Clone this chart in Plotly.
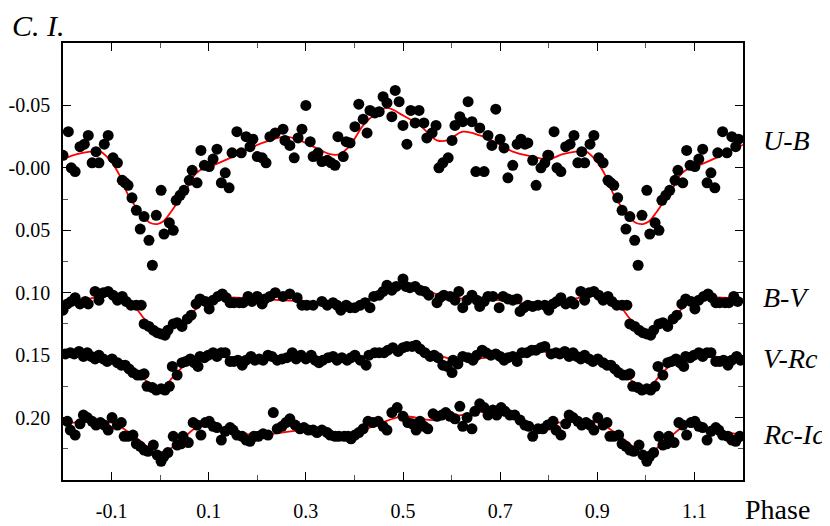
import plotly.graph_objects as go

# ---- colour indices vs phase ----
ub_phase = [-0.200, -0.189, -0.183, -0.175, -0.165, -0.156, -0.148, -0.140, -0.132, -0.126,
            -0.115, -0.107, -0.097, -0.088, -0.078, -0.072, -0.066, -0.058, -0.049, -0.041,
            -0.033, -0.023, -0.016, -0.008, 0.002, 0.008, 0.019, 0.027, 0.033, 0.041,
            0.049, 0.060, 0.066, 0.076, 0.084, 0.091, 0.101, 0.109, 0.117, 0.126,
            0.134, 0.142, 0.148, 0.158, 0.167, 0.177, 0.185, 0.191, 0.200, 0.210,
            0.218, 0.226, 0.237, 0.253, 0.257, 0.267, 0.276, 0.284, 0.292, 0.300,
            0.309, 0.315, 0.325, 0.333, 0.344, 0.352, 0.360, 0.366, 0.377, 0.383,
            0.391, 0.401, 0.409, 0.418, 0.426, 0.432, 0.442, 0.451, 0.459, 0.467,
            0.477, 0.484, 0.492, 0.500, 0.508, 0.516, 0.525, 0.533, 0.543, 0.549,
            0.560, 0.568, 0.574, 0.582, 0.593, 0.601, 0.607, 0.617, 0.623, 0.634,
            0.642, 0.650, 0.658, 0.667, 0.675, 0.683, 0.691, 0.700, 0.708, 0.716,
            0.726, 0.735, 0.743, 0.751, 0.757, 0.767, 0.774, 0.784, 0.792, 0.798]
ub_mag = [-0.010, -0.029, 0.000, 0.003, -0.017, -0.019, -0.026, -0.004, -0.013, -0.004,
          -0.019, -0.026, -0.008, -0.004, 0.010, 0.012, 0.014, 0.024, 0.034, 0.049,
          0.039, 0.058, 0.078, 0.038, 0.018, 0.053, 0.044, 0.050, 0.026, 0.022,
          0.018, 0.010, 0.002, 0.012, -0.014, -0.002, -0.001, -0.007, -0.015, 0.012,
          0.004, 0.016, -0.012, -0.029, -0.012, -0.025, -0.017, -0.023, -0.009, -0.008,
          -0.004, -0.025, -0.028, -0.031, -0.022, -0.018, -0.008, -0.024, -0.031, -0.050,
          -0.021, -0.009, -0.012, -0.005, -0.006, -0.004, -0.002, -0.025, -0.009, -0.021,
          -0.020, -0.033, -0.051, -0.039, -0.028, -0.046, -0.044, -0.045, -0.057, -0.052,
          -0.041, -0.062, -0.053, -0.034, -0.019, -0.046, -0.036, -0.046, -0.036, -0.024,
          -0.028, -0.034, 0.000, -0.004, -0.008, -0.022, -0.034, -0.041, -0.037, -0.053,
          -0.037, 0.003, -0.032, 0.003, -0.026, -0.018, -0.047, -0.023, -0.016, 0.008,
          -0.002, -0.019, -0.023, -0.019, -0.020, -0.006, 0.014, 0.000, -0.004, -0.010]

bv_phase = [-0.200, -0.191, -0.183, -0.175, -0.165, -0.154, -0.148, -0.134, -0.126, -0.117,
            -0.107, -0.097, -0.088, -0.078, -0.070, -0.060, -0.049, -0.039, -0.033, -0.023,
            -0.014, -0.006, 0.002, 0.010, 0.016, 0.027, 0.035, 0.045, 0.056, 0.064,
            0.074, 0.082, 0.093, 0.101, 0.109, 0.119, 0.128, 0.136, 0.144, 0.152,
            0.163, 0.171, 0.181, 0.189, 0.200, 0.210, 0.216, 0.226, 0.237, 0.253,
            0.267, 0.282, 0.292, 0.302, 0.315, 0.333, 0.344, 0.356, 0.364, 0.372,
            0.383, 0.391, 0.401, 0.412, 0.422, 0.432, 0.440, 0.451, 0.459, 0.467,
            0.477, 0.486, 0.500, 0.506, 0.514, 0.525, 0.535, 0.545, 0.553, 0.570,
            0.576, 0.584, 0.597, 0.607, 0.615, 0.623, 0.632, 0.642, 0.652, 0.658,
            0.667, 0.675, 0.685, 0.698, 0.706, 0.716, 0.726, 0.735, 0.741, 0.749,
            0.757, 0.767, 0.778, 0.792]
bv_mag = [0.114, 0.109, 0.107, 0.104, 0.109, 0.107, 0.109, 0.099, 0.106, 0.100,
          0.099, 0.102, 0.106, 0.103, 0.107, 0.110, 0.110, 0.110, 0.125, 0.127,
          0.130, 0.132, 0.133, 0.134, 0.130, 0.125, 0.124, 0.127, 0.121, 0.118,
          0.109, 0.105, 0.107, 0.113, 0.106, 0.103, 0.101, 0.104, 0.108, 0.108,
          0.108, 0.108, 0.103, 0.107, 0.103, 0.109, 0.105, 0.103, 0.100, 0.103,
          0.101, 0.104, 0.110, 0.110, 0.110, 0.107, 0.110, 0.108, 0.110, 0.114,
          0.110, 0.112, 0.112, 0.110, 0.108, 0.112, 0.103, 0.102, 0.099, 0.094,
          0.098, 0.095, 0.089, 0.095, 0.096, 0.095, 0.098, 0.099, 0.102, 0.108,
          0.104, 0.102, 0.103, 0.106, 0.099, 0.112, 0.106, 0.102, 0.106, 0.111,
          0.107, 0.103, 0.103, 0.112, 0.103, 0.105, 0.106, 0.105, 0.115, 0.112,
          0.110, 0.111, 0.110, 0.110]

vr_phase = [-0.195, -0.185, -0.177, -0.167, -0.158, -0.150, -0.142, -0.134, -0.126, -0.117,
            -0.109, -0.099, -0.088, -0.080, -0.072, -0.064, -0.056, -0.047, -0.039, -0.033,
            -0.027, -0.016, -0.008, 0.002, 0.010, 0.019, 0.025, 0.035, 0.045, 0.053,
            0.062, 0.070, 0.078, 0.082, 0.091, 0.099, 0.109, 0.117, 0.126, 0.134,
            0.144, 0.152, 0.160, 0.169, 0.177, 0.187, 0.195, 0.204, 0.212, 0.222,
            0.230, 0.241, 0.251, 0.261, 0.272, 0.280, 0.290, 0.300, 0.311, 0.319,
            0.327, 0.335, 0.346, 0.356, 0.364, 0.374, 0.385, 0.393, 0.401, 0.412,
            0.424, 0.430, 0.442, 0.451, 0.461, 0.469, 0.479, 0.490, 0.500, 0.508,
            0.519, 0.527, 0.535, 0.545, 0.556, 0.564, 0.572, 0.582, 0.591, 0.601,
            0.603, 0.613, 0.623, 0.634, 0.644, 0.652, 0.663, 0.671, 0.681, 0.691,
            0.700, 0.708, 0.716, 0.726, 0.735, 0.745, 0.755, 0.765, 0.774, 0.784, 0.792]
vr_mag = [0.149, 0.148, 0.149, 0.147, 0.151, 0.148, 0.151, 0.153, 0.150, 0.153,
          0.155, 0.153, 0.156, 0.158, 0.158, 0.161, 0.164, 0.166, 0.166, 0.165,
          0.175, 0.176, 0.178, 0.177, 0.178, 0.175, 0.159, 0.166, 0.156, 0.155,
          0.153, 0.156, 0.159, 0.151, 0.152, 0.150, 0.148, 0.151, 0.148, 0.148,
          0.155, 0.155, 0.154, 0.158, 0.154, 0.151, 0.154, 0.153, 0.154, 0.150,
          0.151, 0.154, 0.153, 0.152, 0.148, 0.153, 0.150, 0.153, 0.150, 0.154,
          0.156, 0.154, 0.152, 0.151, 0.154, 0.152, 0.154, 0.152, 0.150, 0.154,
          0.158, 0.150, 0.148, 0.148, 0.148, 0.146, 0.144, 0.147, 0.144, 0.143,
          0.143, 0.142, 0.145, 0.148, 0.151, 0.150, 0.152, 0.158, 0.159, 0.164,
          0.154, 0.157, 0.151, 0.152, 0.154, 0.150, 0.146, 0.148, 0.150, 0.149,
          0.151, 0.154, 0.152, 0.151, 0.155, 0.148, 0.148, 0.146, 0.146, 0.144, 0.143]

ri_phase = [-0.191, -0.185, -0.175, -0.165, -0.158, -0.150, -0.140, -0.132, -0.123, -0.115,
            -0.107, -0.099, -0.088, -0.080, -0.074, -0.066, -0.056, -0.049, -0.041, -0.033,
            -0.025, -0.014, -0.006, 0.002, 0.008, 0.016, 0.027, 0.035, 0.043, 0.047,
            0.058, 0.068, 0.076, 0.084, 0.093, 0.101, 0.109, 0.117, 0.126, 0.134,
            0.144, 0.150, 0.158, 0.169, 0.177, 0.185, 0.193, 0.202, 0.212, 0.222,
            0.233, 0.241, 0.251, 0.259, 0.267, 0.278, 0.288, 0.296, 0.305, 0.315,
            0.323, 0.333, 0.344, 0.350, 0.360, 0.368, 0.379, 0.387, 0.393, 0.401,
            0.409, 0.418, 0.428, 0.438, 0.449, 0.459, 0.467, 0.477, 0.488, 0.500,
            0.510, 0.519, 0.527, 0.535, 0.543, 0.551, 0.562, 0.570, 0.580, 0.588,
            0.597, 0.607, 0.617, 0.623, 0.632, 0.642, 0.648, 0.658, 0.667, 0.675,
            0.685, 0.693, 0.702, 0.710, 0.720, 0.730, 0.741, 0.751, 0.759, 0.767,
            0.778, 0.788, 0.798]
ri_mag = [0.203, 0.210, 0.214, 0.205, 0.198, 0.200, 0.203, 0.206, 0.204, 0.206,
          0.210, 0.200, 0.206, 0.204, 0.215, 0.215, 0.214, 0.221, 0.223, 0.226,
          0.227, 0.222, 0.230, 0.235, 0.231, 0.228, 0.215, 0.222, 0.221, 0.215,
          0.220, 0.204, 0.206, 0.214, 0.204, 0.203, 0.207, 0.208, 0.218, 0.211,
          0.208, 0.210, 0.214, 0.215, 0.218, 0.219, 0.215, 0.215, 0.213, 0.214,
          0.196, 0.209, 0.207, 0.204, 0.201, 0.206, 0.209, 0.208, 0.210, 0.210,
          0.212, 0.210, 0.212, 0.214, 0.215, 0.215, 0.215, 0.215, 0.217, 0.214,
          0.212, 0.209, 0.203, 0.204, 0.203, 0.207, 0.210, 0.196, 0.192, 0.199,
          0.204, 0.205, 0.210, 0.203, 0.207, 0.209, 0.197, 0.199, 0.198, 0.196,
          0.199, 0.201, 0.191, 0.207, 0.200, 0.209, 0.195, 0.189, 0.192, 0.198,
          0.194, 0.198, 0.192, 0.195, 0.198, 0.198, 0.202, 0.206, 0.207, 0.215,
          0.209, 0.209, 0.206]

# fitted curves (red)
ub_fit_phase = [-0.200, -0.171, -0.144, -0.123, -0.103, -0.082, -0.068, -0.056, -0.035, -0.021,
                -0.006, 0.006, 0.021, 0.035, 0.056, 0.066, 0.082, 0.109, 0.150, 0.191,
                0.226, 0.257, 0.282, 0.315, 0.350, 0.370, 0.391, 0.418, 0.442, 0.467,
                0.500, 0.535, 0.570, 0.591, 0.623, 0.658, 0.693, 0.726, 0.767]
ub_fit_mag = [-0.007, -0.011, -0.013, -0.013, -0.006, 0.007, 0.020, 0.028, 0.039, 0.044,
              0.045, 0.043, 0.036, 0.028, 0.016, 0.008, 0.002, -0.002, -0.009, -0.017,
              -0.022, -0.025, -0.023, -0.017, -0.011, -0.011, -0.018, -0.034, -0.043, -0.048,
              -0.042, -0.034, -0.022, -0.022, -0.029, -0.026, -0.020, -0.013, -0.009]
bv_fit_phase = [-0.2, -0.15, -0.1, -0.06, -0.03, 0.0, 0.03, 0.06, 0.09, 0.13,
                0.2, 0.3, 0.4, 0.45, 0.5, 0.55, 0.6, 0.7, 0.76]
bv_fit_mag = [0.108, 0.105, 0.102, 0.108, 0.122, 0.131, 0.127, 0.118, 0.108, 0.104,
              0.105, 0.107, 0.109, 0.101, 0.094, 0.099, 0.104, 0.106, 0.109]
vr_fit_phase = [-0.2, -0.1, -0.06, -0.03, 0.0, 0.03, 0.06, 0.1, 0.2, 0.3,
                0.4, 0.45, 0.5, 0.55, 0.6, 0.7, 0.77]
vr_fit_mag = [0.148, 0.153, 0.160, 0.170, 0.177, 0.166, 0.155, 0.151, 0.153, 0.152,
              0.152, 0.148, 0.144, 0.147, 0.153, 0.151, 0.146]
ri_fit_phase = [-0.2, -0.1, -0.05, 0.0, 0.04, 0.08, 0.12, 0.2, 0.3, 0.38,
                0.45, 0.5, 0.56, 0.62, 0.68, 0.74, 0.77]
ri_fit_mag = [0.205, 0.204, 0.216, 0.229, 0.219, 0.207, 0.209, 0.214, 0.210, 0.215,
              0.205, 0.199, 0.202, 0.198, 0.195, 0.202, 0.207]

x_tick_vals = [-0.1, 0.1, 0.3, 0.5, 0.7, 0.9, 1.1]
x_tick_text = ['-0.1', '0.1', '0.3', '0.5', '0.7', '0.9', '1.1']
x_minor_vals = [0.0, 0.2, 0.4, 0.6, 0.8, 1.0]
y_tick_vals = [-0.05, 0.0, 0.05, 0.10, 0.15, 0.20]
y_tick_text = ['-0.05', '-0.00', '0.05', '0.10', '0.15', '0.20']
y_minor_vals = [0.025, 0.075, 0.125, 0.175, 0.225]

series = [
    ('U-B', ub_phase, ub_mag, ub_fit_phase, ub_fit_mag),
    ('B-V', bv_phase, bv_mag, bv_fit_phase, bv_fit_mag),
    ('V-Rc', vr_phase, vr_mag, vr_fit_phase, vr_fit_mag),
    ('Rc-Ic', ri_phase, ri_mag, ri_fit_phase, ri_fit_mag),
]
label_y = {'U-B': 0.778, 'B-V': 0.4165, 'V-Rc': 0.279, 'Rc-Ic': 0.103}


# phase diagram: repeat the start of the cycle after phase 1
def fold(ph, mg, lim):
    assert len(ph) == len(mg)
    xs = list(ph) + [p + 1 for p in ph if p < lim]
    ys = list(mg) + [m for p, m in zip(ph, mg) if p < lim]
    return xs, ys


SERIF = 'Liberation Serif'
fig = go.Figure()

for name, ph, mg, fph, fmg in series:
    fx, fy = fold(fph, fmg, 0.25)
    fig.add_trace(go.Scatter(x=fx, y=fy, mode='lines', line=dict(color='red', width=1.8, shape='spline'),
                             hoverinfo='skip', showlegend=False))

for name, ph, mg, fph, fmg in series:
    px_, py_ = fold(ph, mg, 0.2)
    fig.add_trace(go.Scatter(x=px_, y=py_, mode='markers', name=name,
                             marker=dict(color='black', size=11, line=dict(width=0)),
                             showlegend=False))

# the page body has an 8px default margin, so the figure starts 8px in and is 8px smaller
fig.update_layout(
    width=822, height=518,
    margin=dict(l=55, r=87, t=35, b=46),
    paper_bgcolor='white', plot_bgcolor='white',
    font=dict(family=SERIF, color='black'),
    xaxis=dict(range=[-0.2, 1.2], showgrid=False, zeroline=False, automargin=False,
               showline=True, linecolor='black', linewidth=1.5, mirror='ticks',
               tickmode='array', tickvals=x_tick_vals, ticktext=x_tick_text,
               ticks='inside', ticklen=8, tickwidth=1, tickcolor='black',
               tickfont=dict(family=SERIF, size=20, color='black'),
               ticklabelstandoff=12,
               minor=dict(tickmode='array', tickvals=x_minor_vals, ticks='inside',
                          ticklen=5, tickwidth=1, tickcolor='#555', showgrid=False)),
    yaxis=dict(range=[0.25, -0.10], showgrid=False, zeroline=False, automargin=False,
               showline=True, linecolor='black', linewidth=1.5, mirror='ticks',
               tickmode='array', tickvals=y_tick_vals, ticktext=y_tick_text,
               ticks='inside', ticklen=8, tickwidth=1, tickcolor='black',
               tickfont=dict(family=SERIF, size=20, color='black'),
               ticklabelstandoff=7,
               minor=dict(tickmode='array', tickvals=y_minor_vals, ticks='inside',
                          ticklen=5, tickwidth=1, tickcolor='#555', showgrid=False)),
)

for name in label_y:
    fig.add_annotation(text=name, xref='paper', yref='paper', x=1.0, y=label_y[name],
                       xanchor='left', yanchor='middle', xshift=18, showarrow=False,
                       font=dict(family=SERIF, size=28, color='black', style='italic'))

fig.add_annotation(text='C. I.', xref='paper', yref='paper', x=-0.076, y=1.08,
                   xanchor='left', yanchor='top', borderpad=0, showarrow=False,
                   font=dict(family=SERIF, size=30, color='black', style='italic'))
fig.add_annotation(text='Phase', xref='paper', yref='paper', x=1.0, y=-0.0686,
                   xanchor='left', yanchor='middle', showarrow=False,
                   font=dict(family=SERIF, size=28, color='black'))

fig.write_html('out.html')
